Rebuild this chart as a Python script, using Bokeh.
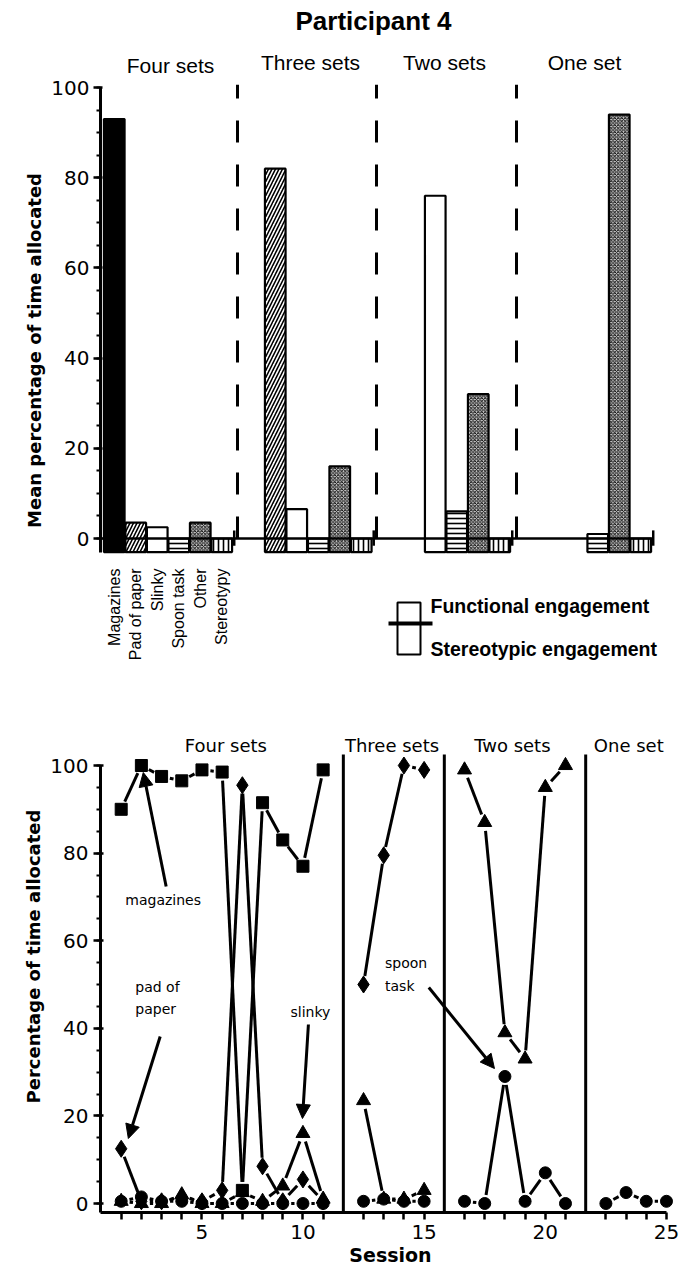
import math
import numpy as np
from bokeh.plotting import figure
from bokeh.models import Range1d, FixedTicker, Arrow, NormalHead, ColumnDataSource, Title
from bokeh.layouts import column
from bokeh.embed import file_html
from bokeh.resources import INLINE
from bokeh.core.properties import value

# ------------------------------------------------------------------ data
title = "Participant 4"
phases = ["Four sets", "Three sets", "Two sets", "One set"]

# top panel: mean percentage of time allocated (None = not available in phase)
items = ["Magazines", "Pad of paper", "Slinky", "Spoon task", "Other", "Stereotypy"]
four_sets = [93, 3.5, 2.5, 0, 3.5, 0]
three_sets = [None, 82, 6.5, 0, 16, 0]
two_sets = [None, None, 76, 6, 32, 0]
one_set = [None, None, None, 1, 94, 0]
top_ticks = [0, 20, 40, 60, 80, 100]
legend_labels = ["Functional engagement", "Stereotypic engagement"]

# bottom panel: session-by-session percentage of time allocated
phase_sessions = [11, 4, 6, 4]
sessions = list(range(1, 26))
nan = float("nan")
magazines = [90, 100, 97.5, 96.5, 99, 98.5, 3, 91.5, 83, 77, 99] + [nan] * 14
pad_of_paper = [12.5, 0.5, 0.5, 1.5, 0.5, 3, 95.5, 8.5, 0.5, 5.5, 0.5,
                50, 79.5, 100, 99] + [nan] * 10
slinky = [0.5, 0, 0, 2, 0, 0, 2.5, 0.5, 4, 16, 1,
          23.5, 1, 1, 3,
          99, 87, 39, 33, 95, 100] + [nan] * 4
spoon_task = [0.5, 1.5, 0.5, 0.5, 0, 0, 0, 0, 0, 0, 0,
              0.5, 1, 0.5, 0.5,
              0.5, 0, 29, 0.5, 7, 0,
              0, 2.5, 0.5, 0.5]
bottom_ticks = [0, 20, 40, 60, 80, 100]
session_labels = [5, 10, 15, 20, 25]

# ------------------------------------------------------------------ helpers
TXT = value("Liberation Sans")
GEN = value("DejaVu Sans")

# ================================================================== TOP PANEL
TW, TH = 680, 700
T_LEFT = 100
T_PXU = 21.5           # pixels per bar slot
T_PYU = 4.51           # pixels per percent
T_ZERO_PX = 538        # pixel row of 0 %
y_top_lo = -(TH - T_ZERO_PX) / T_PYU
y_top_hi = T_ZERO_PX / T_PYU
x_top_hi = (TW - T_LEFT) / T_PXU

def tx(px):
    return (px - T_LEFT) / T_PXU
def ty(py):
    return (T_ZERO_PX - py) / T_PYU

top = figure(width=TW, height=TH, output_backend="svg", toolbar_location=None,
             x_range=Range1d(0, x_top_hi), y_range=Range1d(y_top_lo, y_top_hi),
             x_axis_location=None, min_border_left=T_LEFT, min_border_right=0,
             min_border_top=0, min_border_bottom=0)
top.grid.visible = False
top.outline_line_color = None

ya = top.yaxis[0]
ya.bounds = (-3, 100)
ya.ticker = FixedTicker(ticks=top_ticks, minor_ticks=[v for v in range(0, 101, 5)])
ya.major_label_text_font = "DejaVu Sans"
ya.major_label_text_font_size = "20px"
ya.major_label_text_color = "black"
ya.axis_line_width = 3
ya.major_tick_line_width = 2.5
ya.minor_tick_line_width = 2
ya.major_tick_out = 7
ya.major_tick_in = 2
ya.minor_tick_out = 4
ya.minor_tick_in = 0
ya.major_label_standoff = 4
top.add_layout(Title(text="Mean percentage of time allocated", align="center",
                     offset=40, text_font="DejaVu Sans", text_font_style="bold",
                     text_font_size="18px", text_color="black", standoff=8), "left")

BAR_BASE = -3
group_values = [four_sets, three_sets, two_sets, one_set]
group_start = [tx(103), tx(242.5), tx(381), tx(522)]   # left edge of slot 0 per phase
styles = [
    dict(fill_color="black"),
    dict(fill_color="white", hatch_pattern="/", hatch_scale=7, hatch_weight=1.6),
    dict(fill_color="white"),
    dict(fill_color="white", hatch_pattern="-", hatch_scale=5, hatch_weight=1.6),
    dict(fill_color="#d0d0d0", hatch_pattern="x", hatch_scale=3.5, hatch_weight=0.9),
    dict(fill_color="white", hatch_pattern="|", hatch_scale=5, hatch_weight=1.6),
]
for i, item in enumerate(items):
    L, R, T = [], [], []
    for g, vals in enumerate(group_values):
        if vals[i] is None:
            continue
        L.append(group_start[g] + i + 0.02)
        R.append(group_start[g] + i + 0.98)
        T.append(vals[i])
    src = ColumnDataSource(dict(left=L, right=R, top=T, bottom=[BAR_BASE] * len(T)))
    kw = dict(line_color="black", line_width=2.2, hatch_color="black")
    kw.update(styles[i])
    top.quad(left="left", right="right", top="top", bottom="bottom", source=src, **kw)

# group end ticks & zero line
ends = []
for g, vals in enumerate(group_values):
    last = max(k for k, v in enumerate(vals) if v is not None)
    ends.append(group_start[g] + last + 1.08)
top.segment(x0=ends, y0=[-1.6] * len(ends), x1=ends, y1=[1.8] * len(ends),
            line_color="black", line_width=2.5)
top.segment(x0=[0], y0=[0], x1=[ends[-1]], y1=[0], line_color="black", line_width=2.5)

# dashed phase separators
sep = [tx(237), tx(376), tx(516)]
top.segment(x0=sep, y0=[0] * 3, x1=sep, y1=[100.6] * 3, line_color="black",
            line_width=3, line_dash="22 22")

# title and phase labels
top.text(x=[tx(373)], y=[ty(20)], text=[title],
         text_font=TXT, text_font_style="bold", text_font_size="26px",
         text_align="center", text_baseline="middle")
ph_x = [tx(170), tx(310), tx(444), tx(584)]
ph_y = [ty(65), ty(62), ty(62), ty(62)]
top.text(x=ph_x, y=ph_y, text=phases, text_font=TXT, text_font_size="21px",
         text_align="center", text_baseline="middle")

# category labels (rotated, under the Four-sets bars)
cx = [group_start[0] + k + 0.5 for k in range(len(items))]
top.text(x=cx, y=[ty(568)] * len(items), text=items,
         angle=math.pi / 2, text_font=TXT, text_font_size="16px",
         text_align="right", text_baseline="middle")

# legend
top.quad(left=[tx(397)], right=[tx(420)], top=[ty(602)], bottom=[ty(654)],
         fill_color="white", line_color="black", line_width=2)
top.segment(x0=[tx(388)], y0=[ty(623)], x1=[tx(432)], y1=[ty(623)],
            line_color="black", line_width=4)
top.text(x=[tx(430)] * 2, y=[ty(605), ty(648)], text=legend_labels,
         text_font=TXT, text_font_style="bold", text_font_size="19.5px",
         text_align="left", text_baseline="middle")

# ================================================================== BOTTOM PANEL
BW, BH = 680, 577
B_LEFT = 97
B_BOTTOM = 65
B_PXU = 20.3
B_PYU = 4.38
B_X0PX = 97.5          # pixel column of u = 0
B_ZERO_PX = 1203 - 700  # pixel row (in this figure) of 0 %
frame_h = BH - B_BOTTOM
yb_lo = -(frame_h - B_ZERO_PX) / B_PYU
yb_hi = B_ZERO_PX / B_PYU
xb_lo = (B_LEFT - B_X0PX) / B_PXU
xb_hi = (BW - B_X0PX) / B_PXU

bot = figure(width=BW, height=BH, output_backend="svg", toolbar_location=None,
             x_range=Range1d(xb_lo, xb_hi), y_range=Range1d(yb_lo, yb_hi),
             min_border_left=B_LEFT, min_border_right=0, min_border_top=0,
             min_border_bottom=B_BOTTOM)
bot.grid.visible = False
bot.outline_line_color = None

# session -> plot position (one blank slot is inserted at each phase change)
phase_idx = []
for k, n in enumerate(phase_sessions):
    phase_idx += [k] * n
upos = [s + phase_idx[i] for i, s in enumerate(sessions)]

xa = bot.xaxis[0]
xa.bounds = (0, upos[-1])
xa.ticker = FixedTicker(ticks=upos, minor_ticks=[])
xa.major_label_overrides = {u: (str(s) if s in session_labels else "")
                            for u, s in zip(upos, sessions)}
yb = bot.yaxis[0]
yb.bounds = (yb_lo, 100)
yb.ticker = FixedTicker(ticks=bottom_ticks, minor_ticks=list(range(0, 101, 5)))
for ax in (xa, yb):
    ax.major_label_text_font = "DejaVu Sans"
    ax.major_label_text_font_size = "20px"
    ax.major_label_text_color = "black"
    ax.axis_line_width = 3
    ax.major_tick_line_width = 2.5
    ax.minor_tick_line_width = 2
    ax.major_tick_out = 7
    ax.major_tick_in = 3
    ax.minor_tick_out = 4
    ax.minor_tick_in = 0
    ax.major_label_standoff = 5
xa.major_tick_in = 0
bot.add_layout(Title(text="Percentage of time allocated", align="center", offset=-29,
                     text_font="DejaVu Sans", text_font_style="bold",
                     text_font_size="18px", text_color="black", standoff=8), "left")
bot.add_layout(Title(text="Session", align="center", offset=-18,
                     text_font="DejaVu Sans", text_font_style="bold",
                     text_font_size="19px", text_color="black", standoff=0), "below")

# phase change lines
pl = [upos[sum(phase_sessions[:k + 1]) - 1] + 1 for k in range(3)]
bot.segment(x0=pl, y0=[yb_lo] * 3, x1=pl, y1=[102.5] * 3, line_color="black",
            line_width=3)

def bx(px):
    return (px - B_X0PX) / B_PXU
def by(py):
    return (1203 - py) / B_PYU

# phase labels
pcx = [bx(223), bx(390), bx(511), bx(628)]
bot.text(x=pcx, y=[by(745)] * 4, text=phases, text_font=GEN,
         text_font_size="18px", text_align="center", text_baseline="middle")

GAP = 8.5
def gapped(ys):
    x0, y0, x1, y1 = [], [], [], []
    for i in range(len(ys) - 1):
        if phase_idx[i] != phase_idx[i + 1]:
            continue
        if math.isnan(ys[i]) or math.isnan(ys[i + 1]):
            continue
        xa_, xb_ = upos[i], upos[i + 1]
        ya_, yb_ = ys[i], ys[i + 1]
        dx = (xb_ - xa_) * B_PXU
        dy = (yb_ - ya_) * B_PYU
        Lp = math.hypot(dx, dy)
        if Lp <= 2 * GAP + 3:
            continue
        t = GAP / Lp
        x0.append(xa_ + (xb_ - xa_) * t)
        y0.append(ya_ + (yb_ - ya_) * t)
        x1.append(xb_ - (xb_ - xa_) * t)
        y1.append(yb_ - (yb_ - ya_) * t)
    return x0, y0, x1, y1

series = [(spoon_task, "circle", 12), (slinky, "triangle", 14),
          (pad_of_paper, "diamond", 17), (magazines, "square", 12)]
for ys, mk, sz in series:
    x0, y0, x1, y1 = gapped(ys)
    bot.segment(x0=x0, y0=y0, x1=x1, y1=y1, line_color="black", line_width=3)
for ys, mk, sz in series:
    px = [u for u, v in zip(upos, ys) if not math.isnan(v)]
    py = [v for v in ys if not math.isnan(v)]
    bot.scatter(x=px, y=py, marker=mk, size=sz, fill_color="black", line_color="black")

# annotations
notes = [("magazines", bx(160), by(899), "center"),
         ("pad of", bx(132), by(986), "left"), ("paper", bx(132), by(1008), "left"),
         ("slinky", bx(308), by(1011), "center"),
         ("spoon", bx(383), by(962), "left"), ("task", bx(383), by(985), "left")]
for t, x, y, al in notes:
    bot.text(x=[x], y=[y], text=[t], text_font=GEN, text_font_size="14px",
             text_align=al, text_baseline="middle")
arrows = [((163, 886), (140, 772)), ((157, 1036), (125, 1138)),
          ((306, 1024), (300, 1118)), ((427, 987), (493, 1068))]
for (ax0, ay0), (ax1, ay1) in arrows:
    bot.add_layout(Arrow(x_start=bx(ax0), y_start=by(ay0), x_end=bx(ax1), y_end=by(ay1),
                         line_width=3, line_color="black",
                         end=NormalHead(size=14, fill_color="black", line_color="black")))

layout = column(top, bot, spacing=0)
open("out.html", "w").write(file_html(layout, INLINE))
